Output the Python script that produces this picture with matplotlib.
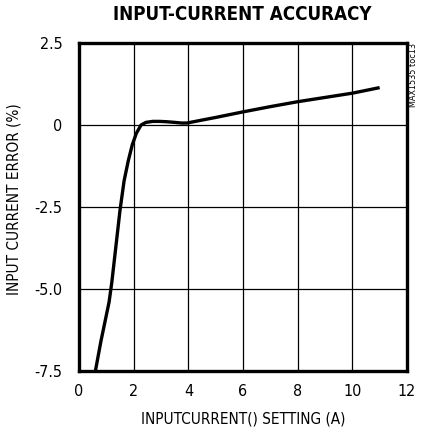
import matplotlib
matplotlib.use("Agg")
import matplotlib.pyplot as plt
from matplotlib import font_manager
from matplotlib.font_manager import FontProperties

x_vals = [0.6, 0.8, 1.0, 1.1, 1.2, 1.35, 1.5, 1.65, 1.8, 1.95, 2.1, 2.27, 2.45, 2.7, 2.95, 3.2, 3.5, 3.75, 3.95, 4.5, 5.0, 6.0, 7.0, 8.0, 9.0, 10.0, 11.0]
y_vals = [-7.5, -6.6, -5.8, -5.4, -4.8, -3.7, -2.6, -1.7, -1.1, -0.6, -0.25, 0.0, 0.08, 0.11, 0.11, 0.1, 0.08, 0.06, 0.06, 0.15, 0.23, 0.40, 0.56, 0.71, 0.84, 0.97, 1.14]
x_ticks = [0, 2, 4, 6, 8, 10, 12]
y_ticks = [-7.5, -5.0, -2.5, 0, 2.5]
y_tick_labels = ["-7.5", "-5.0", "-2.5", "0", "2.5"]

def find_font(keys, bold=False):
    for f in font_manager.fontManager.ttflist:
        n = f.fname.lower()
        if any(k in n for k in keys):
            isbold = ("bold" in n)
            if isbold == bold and "oblique" not in n and "italic" not in n:
                return f.fname
    return None

reg = find_font(["sansnarrow-regular", "sans-narrow", "narrow-regular", "dejavusanscondensed.ttf"])
bld = find_font(["sansnarrow-bold", "narrow-bold", "dejavusanscondensed-bold"], bold=True)

def mk(size, bold=False):
    f = bld if bold else reg
    if f:
        return FontProperties(fname=f, size=size)
    return FontProperties(family="DejaVu Sans", stretch="condensed",
                          weight="bold" if bold else "normal", size=size)

fp = mk(11.5)
fpl = mk(11)
fpt = mk(13.5, bold=True)
fps = mk(6.5)

fig = plt.figure(figsize=(4.22, 4.33), dpi=100)
ax = fig.add_axes([79/422, 1 - 371/433, (407-79)/422, (371-43)/433])
ax.plot(x_vals, y_vals, color="black", lw=2.4, solid_capstyle="butt")
ax.set_xlim(0, 12)
ax.set_ylim(-7.5, 2.5)
ax.set_xticks(x_ticks)
ax.set_xticklabels([str(t) for t in x_ticks], fontproperties=fp)
ax.set_yticks(y_ticks)
ax.set_yticklabels(y_tick_labels, fontproperties=fp)
ax.tick_params(axis="y", length=0, pad=12)
ax.tick_params(axis="x", length=0, pad=9)
ax.grid(True, color="black", lw=0.9)
for s in ax.spines.values():
    s.set_linewidth(2.4)
fig.text(243/422, 1 - 419/433, "INPUTCURRENT() SETTING (A)", ha="center", va="center",
         fontproperties=fpl)
fig.text(14/422, 1 - 199/433, "INPUT CURRENT ERROR (%)", ha="center", va="center",
         rotation=90, fontproperties=fpl)
fig.text(242/422, 1 - 15/433, "INPUT-CURRENT ACCURACY", ha="center", va="center",
         fontproperties=fpt)
fig.text(414/422, 1 - 43/433, "MAX1535 toc13", rotation=90, ha="center", va="top", fontproperties=fps)
fig.savefig("out.png", dpi=100)
